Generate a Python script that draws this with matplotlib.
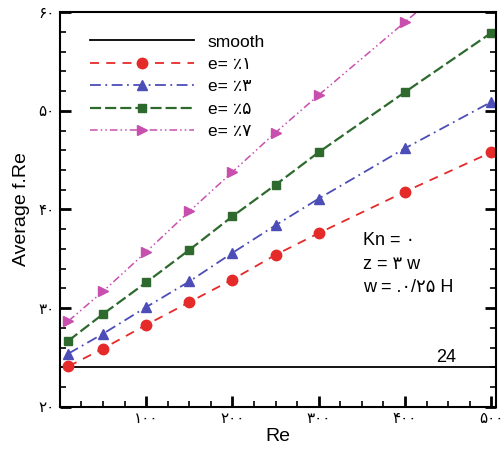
import matplotlib
matplotlib.use('Agg')
import matplotlib.pyplot as plt
from matplotlib.ticker import MultipleLocator

plt.rcParams['font.family'] = ['Liberation Sans', 'DejaVu Sans']

# Re and average f.Re
re = [10, 50, 100, 150, 200, 250, 300, 400, 500]
e1 = [24.1, 25.9, 28.3, 30.6, 32.9, 35.4, 37.6, 41.8, 45.8]
e3 = [25.4, 27.4, 30.1, 32.7, 35.6, 38.4, 41.1, 46.2, 50.9]
e5 = [26.7, 29.4, 32.6, 35.9, 39.3, 42.5, 45.8, 51.9, 57.9]
e7 = [28.7, 31.7, 35.7, 39.8, 43.8, 47.8, 51.6, 59.0, 66.4]
smooth_fre = 24

labels = ['e= ٪۱', 'e= ٪۳', 'e= ٪۵', 'e= ٪۷']
xticks = [100, 200, 300, 400, 500]
xticklabels = ['۱۰۰', '۲۰۰', '۳۰۰', '۴۰۰', '۵۰۰']
yticks = [20, 30, 40, 50, 60]
yticklabels = ['۲۰', '۳۰', '۴۰', '۵۰', '۶۰']

fig = plt.figure(figsize=(5.03, 4.5), dpi=100)
ax = fig.add_axes([0.119, 0.096, 0.868, 0.877])

ax.axhline(smooth_fre, color='black', lw=1.3, label='smooth')
ax.plot(re, e1, color='#e52a2a', ls=(0, (5, 4)), lw=1.3, marker='o', ms=7.5, label=labels[0])
ax.plot(re, e3, color='#4d4db8', ls=(0, (6, 2.5, 1, 2.5)), lw=1.3, marker='^', ms=6.5, label=labels[1])
ax.plot(re, e5, color='#2e6a2e', ls=(0, (5, 1.8)), lw=1.6, marker='s', ms=5.5, label=labels[2])
ax.plot(re, e7, color='#c84fae', ls=(0, (5, 2, 1, 2, 1, 2)), lw=1.1, marker='>', ms=6.5, label=labels[3])

ax.set_xlim(0, 506)
ax.set_ylim(20, 60)
ax.set_xticks(xticks)
ax.set_xticklabels(xticklabels)
ax.set_yticks(yticks)
ax.set_yticklabels(yticklabels)
ax.xaxis.set_minor_locator(MultipleLocator(25))
ax.yaxis.set_minor_locator(MultipleLocator(2))
ax.tick_params(which='both', direction='in', left=True, right=True, bottom=True, top=False,
               width=1.2, labelsize=11)
ax.tick_params(which='major', length=8, width=2)
ax.tick_params(which='minor', length=4)
for s in ax.spines.values():
    s.set_linewidth(1.5)

ax.set_xlabel('Re', fontsize=14, labelpad=2)
ax.set_ylabel('Average f.Re', fontsize=14, labelpad=6)

ax.text(351, 36.9, 'Kn = ۰', fontsize=13, va='center')
ax.text(351, 34.4, 'z = ۳ w', fontsize=13, va='center')
ax.text(351, 32.1, 'w = .۰/۲۵ H', fontsize=13, va='center')
ax.text(448, 25.0, '24', fontsize=13, ha='center', va='center')

ax.legend(loc='upper left', frameon=False, fontsize=12.5, handlelength=6,
          labelspacing=0.42, bbox_to_anchor=(0.045, 0.97), borderaxespad=0.2)

fig.savefig('out.png', dpi=100)
